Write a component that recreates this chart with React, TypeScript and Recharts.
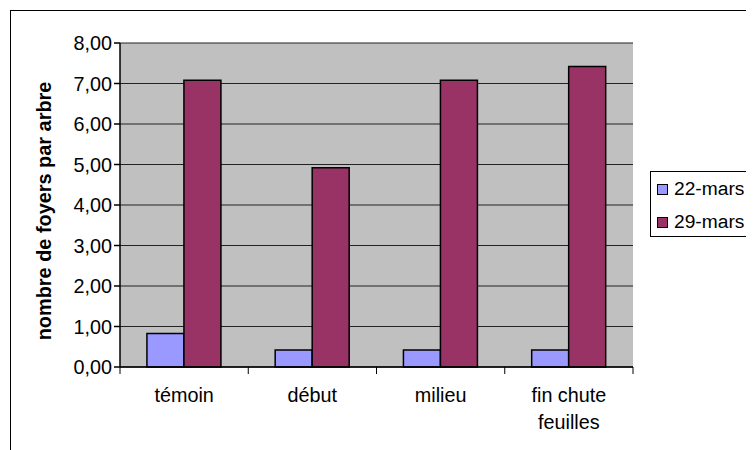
import React from "react";
import { BarChart, Bar, XAxis, YAxis, CartesianGrid, Label } from "recharts";

const categories = ["témoin", "début", "milieu", "fin chute feuilles"];
const tickLines = [["témoin"], ["début"], ["milieu"], ["fin chute", "feuilles"]];
const series22 = [0.83, 0.42, 0.42, 0.42];
const series29 = [7.08, 4.92, 7.08, 7.42];
const seriesNames = ["22-mars", "29-mars"];
const seriesColors = ["#9999FF", "#993366"];
const yTicks = [0, 1, 2, 3, 4, 5, 6, 7, 8];
const yTitle = "nombre de foyers par arbre";

const data = categories.map((c, i) => ({ cat: c, s22: series22[i], s29: series29[i] }));

const FONT = "'Liberation Sans', Arial, sans-serif";
const FS = 19.8;

const CHART_W = 746;
const CHART_H = 442;
const MARGIN = { top: 35, right: 121, bottom: 23, left: 52 };
const PLOT_W = CHART_W - MARGIN.left - MARGIN.right - 60;
const BAND = PLOT_W / categories.length;

const XTick = (props: any) => {
  const { x, y, payload, index } = props;
  const lines = tickLines[index] || [payload.value];
  const top = y - 8;
  return (
    <g>
      <line x1={x - BAND / 2} x2={x - BAND / 2} y1={top} y2={top + 7} stroke="#000" strokeWidth={1} />
      {index === categories.length - 1 && (
        <line x1={x + BAND / 2} x2={x + BAND / 2} y1={top} y2={top + 7} stroke="#000" strokeWidth={1} />
      )}
      {lines.map((l: string, i: number) => (
        <text key={i} x={x} y={top + 35 + i * 27} textAnchor="middle" fontFamily={FONT} fontSize={FS} fill="#000">
          {l}
        </text>
      ))}
    </g>
  );
};

const LegendBox = () => (
  <div
    style={{
      position: "absolute",
      left: 642,
      top: 163,
      width: 104,
      height: 66,
      border: "1px solid #000",
      background: "#fff",
      boxSizing: "border-box",
      fontFamily: FONT,
      fontSize: 19.2,
    }}
  >
    {seriesNames.map((n, i) => (
      <div
        key={n}
        style={{
          position: "absolute",
          left: 6,
          top: 5 + i * 33,
          height: 24,
          display: "flex",
          alignItems: "center",
          whiteSpace: "nowrap",
        }}
      >
        <span
          style={{
            display: "inline-block",
            width: 9,
            height: 9,
            background: seriesColors[i],
            border: "1px solid #000",
            marginRight: 6,
          }}
        />
        <span>{n}</span>
      </div>
    ))}
  </div>
);

export default function App() {
  return (
    <div style={{ position: "relative", width: 746, height: 442, overflow: "hidden" }}>
      <div
        style={{
          position: "absolute",
          left: 2,
          top: 2,
          width: 760,
          height: 460,
          borderTop: "1.5px solid #000",
          borderLeft: "1.5px solid #000",
        }}
      />
      <div style={{ position: "absolute", left: 0, top: 0 }}>
        <BarChart
          width={CHART_W}
          height={CHART_H}
          data={data}
          margin={MARGIN}
          barCategoryGap="21%"
          barGap={0}
        >
          <CartesianGrid
            horizontal={true}
            vertical={false}
            stroke="#222"
            fill="#C0C0C0"
            fillOpacity={1}
          />
          <XAxis
            dataKey="cat"
            height={60}
            axisLine={{ stroke: "#000", strokeWidth: 1.5 }}
            tickLine={false}
            tick={<XTick />}
            interval={0}
          />
          <YAxis
            width={60}
            domain={[0, 8]}
            ticks={yTicks}
            interval={0}
            tickFormatter={(v: number) => v.toFixed(2).replace(".", ",")}
            axisLine={{ stroke: "#000", strokeWidth: 1.5 }}
            tickLine={{ stroke: "#000", strokeWidth: 1.5 }}
            tickSize={6}
            tick={{ fontFamily: FONT, fontSize: FS, fill: "#000" }}
          >
            <Label
              content={(p: any) => {
                const vb = p.viewBox;
                const cx = 36;
                const cy = vb.y + vb.height / 2 + 6;
                return (
                  <text
                    x={cx}
                    y={cy}
                    transform={`rotate(-90 ${cx} ${cy})`}
                    textAnchor="middle"
                    dominantBaseline="central"
                    fontFamily={FONT}
                    fontSize={19.9}
                    fontWeight="bold"
                    fill="#000"
                  >
                    {yTitle}
                  </text>
                );
              }}
            />
          </YAxis>
          <Bar dataKey="s22" name={seriesNames[0]} fill={seriesColors[0]} stroke="#000" strokeWidth={1.5} isAnimationActive={false} />
          <Bar dataKey="s29" name={seriesNames[1]} fill={seriesColors[1]} stroke="#000" strokeWidth={1.5} isAnimationActive={false} />
        </BarChart>
      </div>
      <LegendBox />
    </div>
  );
}
